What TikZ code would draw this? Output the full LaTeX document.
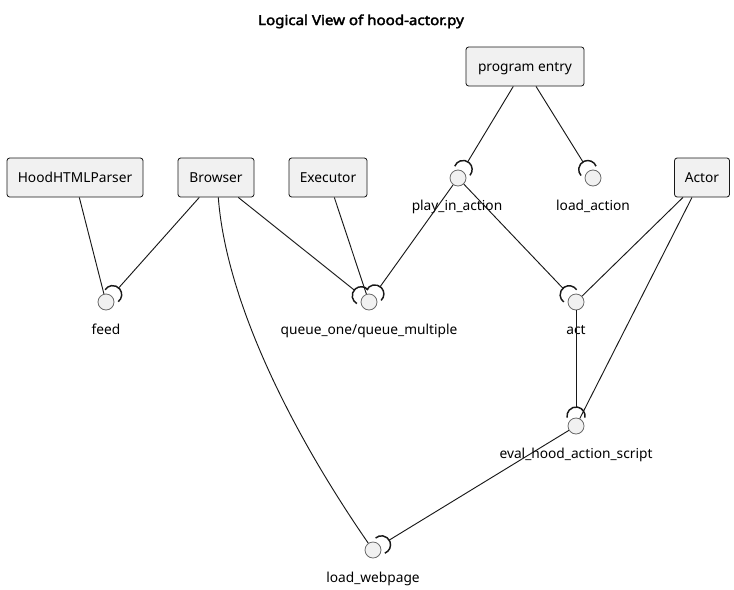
\documentclass[tikz,border=0pt]{standalone}
\usepackage{fontspec}
\setmainfont{Noto Sans}
\newfontfamily\titlefont{Noto Sans}[AutoFakeBold=2.5]
\usetikzlibrary{calc}
\definecolor{boxfill}{HTML}{F1F1F1}
\definecolor{ink}{HTML}{181818}
\newcommand\mysocket[3]{%
  \coordinate (#3) at ($(#1.center)+({#2}:19)$);
  \draw[sockarc] ($(#1.center)+({#2}:10)+({#2-100}:9)$) arc[start angle={#2-100}, end angle={#2+100}, radius=9];
}
\begin{document}
\begin{tikzpicture}[x=0.75pt,y=0.75pt,
  txt/.style={font=\fontsize{10.3}{12}\selectfont},
  comp/.style={txt, draw=ink, fill=boxfill, rounded corners=2pt, line width=0.6pt, inner sep=0pt,
    minimum height=29.25pt, text height=7.4pt, text depth=0pt},
  iface/.style={circle, draw=ink!65, fill=boxfill, line width=0.6pt, minimum size=12pt, inner sep=0pt},
  lbl/.style={txt, inner sep=0pt, anchor=base},
  link/.style={draw=ink, line width=0.7pt},
  sockarc/.style={draw=ink, line width=1.1pt}]
\useasboundingbox (0,0) rectangle (734,-589);
\node[font=\titlefont\fontsize{10.3}{12}\selectfont\bfseries, anchor=base, inner sep=0pt, xscale=1.1] (title) at (361,-25) {Logical View of hood-actor.py};
% components
\node[comp, minimum width=102pt] (parser) at (75,-177.5) {HoodHTMLParser};
\node[comp, minimum width=57pt] (browser) at (216,-177.5) {Browser};
\node[comp, minimum width=58.5pt] (executor) at (328,-177.5) {Executor};
\node[comp, minimum width=88.5pt] (entry) at (525,-66.5) {program entry};
\node[comp, minimum width=41.25pt] (actor) at (702,-177.5) {Actor};
% interfaces
\node[iface] (feed) at (106,-302) {};
\node[iface] (queue) at (369,-302) {};
\node[iface] (play) at (458,-178) {};
\node[iface] (loadact) at (593,-178) {};
\node[iface] (act) at (576,-302) {};
\node[iface] (eval) at (576,-426) {};
\node[iface] (web) at (373,-550) {};
% labels
\node[lbl] (feed-l) at (106,-334) {feed};
\node[lbl] (queue-l) at (369,-334) {queue\_one/queue\_multiple};
\node[lbl] (play-l) at (457,-210) {play\_in\_action};
\node[lbl] (loadact-l) at (593,-210) {load\_action};
\node[lbl] (act-l) at (576,-334) {act};
\node[lbl] (eval-l) at (576,-458) {eval\_hood\_action\_script};
\node[lbl] (web-l) at (373,-582) {load\_webpage};
% links
\draw[link] ($(parser.south)+(4.3,0)$) -- (feed);
\mysocket{feed}{48}{feed-s}
\draw[link] ($(browser.south)+(-16.7,0)$) -- (feed-s);
\mysocket{queue}{141}{queue-sl}
\draw[link] ($(browser.south)+(22.3,0)$) -- (queue-sl);
\draw[link] ($(executor.south)+(6.3,0)$) -- (queue);
\mysocket{queue}{54}{queue-sr}
\draw[link] (play) -- (queue-sr);
\mysocket{play}{59}{play-s}
\draw[link] ($(entry.south)+(-11.7,0)$) -- (play-s);
\mysocket{loadact}{122}{loadact-s}
\draw[link] ($(entry.south)+(11,0)$) -- (loadact-s);
\mysocket{act}{133.6}{act-s}
\draw[link] (play) -- (act-s);
\draw[link] ($(actor.south)+(-19,0)$) -- (act);
\mysocket{eval}{90}{eval-s}
\draw[link] (act) -- (eval-s);
\draw[link] ($(actor.south)+(-10,0)$) -- (eval);
\mysocket{web}{31.4}{web-s}
\draw[link] (eval) -- (web-s);
\draw[link] ($(browser.south)+(2.3,0)$) .. controls (226,-300) and (290,-430) .. (web);
\end{tikzpicture}
\end{document}
